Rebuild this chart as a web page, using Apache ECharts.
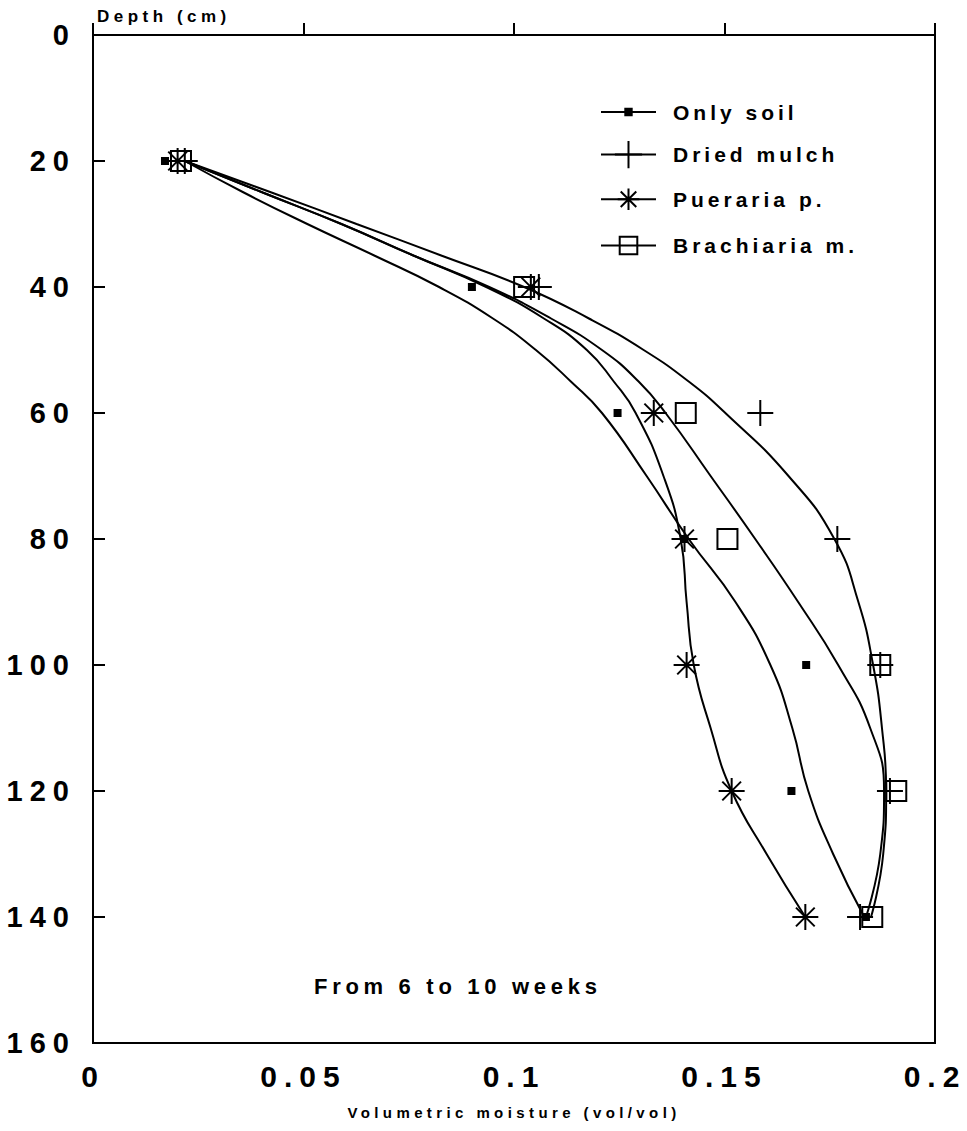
<!DOCTYPE html>
<html><head><meta charset="utf-8">
<script src="https://cdn.jsdelivr.net/npm/echarts@6/dist/echarts.min.js"></script>
<style>
html,body{margin:0;padding:0;background:#fff;}
#c{width:967px;height:1131px;}
#c text[style*="30px"]{letter-spacing:7px;}
#c text[style*="29px"]{letter-spacing:7px;}
#c text[style*="21px"]{letter-spacing:4px;}
#c text[style*="22px"]{letter-spacing:4.7px;}
#c text[style*="17px"]{letter-spacing:4.5px;}
#c text[style*="15px"]{letter-spacing:4.4px;}
</style></head><body><div id="c"></div>
<script>
// measured points (depth in cm, volumetric moisture)
const depths = [20, 40, 60, 80, 100, 120, 140];
const onlySoil   = [0.0171, 0.0900, 0.1246, 0.1405, 0.1694, 0.1659, 0.1836];
const driedMulch = [0.0218, 0.1059, 0.1585, 0.1768, 0.1870, 0.1893, 0.1822];
const pueraria   = [0.0201, 0.1040, 0.1332, 0.1405, 0.1410, 0.1517, 0.1692];
const brachiaria = [0.0209, 0.1024, 0.1408, 0.1507, 0.1870, 0.1908, 0.1851];

// fitted curves
const curveDepths = [20, 25, 30, 35, 40, 45, 50, 55, 60, 70, 80, 90, 100, 110, 120, 130, 140];
const onlySoilCurve   = [0.0218, 0.0358, 0.0509, 0.0668, 0.0822, 0.0950, 0.1052, 0.1135, 0.1209, 0.1315, 0.1415, 0.1526, 0.1609, 0.1661, 0.1699, 0.1758, 0.1832];
const puerariaCurve   = [0.0218, 0.0403, 0.0590, 0.0761, 0.0934, 0.1071, 0.1173, 0.1237, 0.1289, 0.1355, 0.1396, 0.1410, 0.1427, 0.1467, 0.1517, 0.1600, 0.1692];
const brachiariaCurve = [0.0218, 0.0403, 0.0590, 0.0761, 0.0941, 0.1088, 0.1209, 0.1296, 0.1360, 0.1467, 0.1573, 0.1675, 0.1770, 0.1846, 0.1879, 0.1870, 0.1836];
const driedMulchCurve = [0.0218, 0.0424, 0.0626, 0.0827, 0.1024, 0.1178, 0.1308, 0.1415, 0.1502, 0.1652, 0.1761, 0.1818, 0.1853, 0.1874, 0.1884, 0.1877, 0.1848];

const seriesNames = ['Only soil', 'Dried mulch', 'Pueraria p.', 'Brachiaria m.'];
const xTicks = [0, 0.05, 0.1, 0.15, 0.2];
const yTicks = [0, 20, 40, 60, 80, 100, 120, 140, 160];

const FONT = 'Liberation Sans, Arial, sans-serif';
const plusPath = 'path://M0,-1L0,1M-1,0L1,0';
const starPath = 'path://M-1,0L1,0M0,-1L0,1M-0.72,-0.72L0.72,0.72M-0.72,0.72L0.72,-0.72';

function pts(xs, ys){ return ys.map((d,i)=>[xs[i], d]); }

const markerSpec = [
  {name: seriesNames[0], vals: onlySoil, symbol: 'rect', size: 6, fill: '#000'},
  {name: seriesNames[1], vals: driedMulch, symbol: plusPath, size: 26, fill: '#000'},
  {name: seriesNames[2], vals: pueraria, symbol: starPath, size: 26, fill: '#000'},
  {name: seriesNames[3], vals: brachiaria, symbol: 'rect', size: 20, fill: 'transparent'}
];
const curves = [onlySoilCurve, driedMulchCurve, puerariaCurve, brachiariaCurve];

const series = [];
curves.forEach((c, i) => {
  series.push({
    name: seriesNames[i] + ' (fit)', type: 'line', smooth: 0.5, symbol: 'none',
    data: pts(c, curveDepths),
    lineStyle: {color: '#000', width: 2}, silent: true, z: 2
  });
});
markerSpec.forEach(m => {
  series.push({
    name: m.name, type: 'line', data: pts(m.vals, depths),
    symbol: m.symbol, symbolSize: m.size, showSymbol: true,
    lineStyle: {opacity: 0, width: 2, color: '#000'},
    itemStyle: {color: m.fill, borderColor: '#000', borderWidth: 2, opacity: 1},
    z: 3, silent: true
  });
});

// legend rows: [name, centre y, item height]
const legendRows = [[seriesNames[0], 112, 8], [seriesNames[1], 157, 34], [seriesNames[2], 201, 27], [seriesNames[3], 246, 22]];
const legends = legendRows.map(r => ({
  data: [r[0]], left: 600, top: r[1] - Math.max(r[2], 21)/2, padding: 0,
  itemWidth: 55, itemHeight: r[2], selectedMode: false,
  lineStyle: {color: '#000', width: 2, opacity: 1, type: 'solid'},
  textStyle: {fontFamily: FONT, fontSize: 21, fontWeight: 'bold', color: '#000', padding: [0,0,0,12]}
}));

const chart = echarts.init(document.getElementById('c'), null, {renderer: 'svg'});
chart.setOption({
  animation: false,
  backgroundColor: '#fff',
  grid: {left: 93, top: 35, right: 32, bottom: 88, show: true, borderColor: '#000', borderWidth: 2, backgroundColor: 'transparent'},
  title: [
    {text: 'Depth (cm)', left: 97, top: 8, padding: 0, textStyle: {fontFamily: FONT, fontSize: 17, fontWeight: 'bold', color: '#000'}},
    {text: 'From 6 to 10 weeks', left: 314, top: 975, padding: 0, textStyle: {fontFamily: FONT, fontSize: 22, fontWeight: 'bold', color: '#000'}}
  ],
  legend: legends,
  xAxis: {
    type: 'value', min: xTicks[0], max: xTicks[xTicks.length-1], interval: 0.05,
    name: 'Volumetric moisture (vol/vol)', nameLocation: 'middle', nameGap: 62,
    nameTextStyle: {fontFamily: FONT, fontSize: 15, fontWeight: 'bold', color: '#000'},
    axisLine: {show: true, lineStyle: {color: '#000', width: 2}},
    axisTick: {show: true, inside: true, length: 12, lineStyle: {color: '#000', width: 2}},
    axisLabel: {fontFamily: FONT, fontSize: 30, fontWeight: 'bold', color: '#000', margin: 18},
    splitLine: {show: false}
  },
  yAxis: {
    type: 'value', inverse: true, min: yTicks[0], max: yTicks[yTicks.length-1], interval: 20,
    axisLine: {show: true, lineStyle: {color: '#000', width: 2}},
    axisTick: {show: true, inside: true, length: 12, lineStyle: {color: '#000', width: 2}},
    axisLabel: {fontFamily: FONT, fontSize: 29, fontWeight: 'bold', color: '#000', margin: 17},
    splitLine: {show: false}
  },
  series: series
});
</script></body></html>
